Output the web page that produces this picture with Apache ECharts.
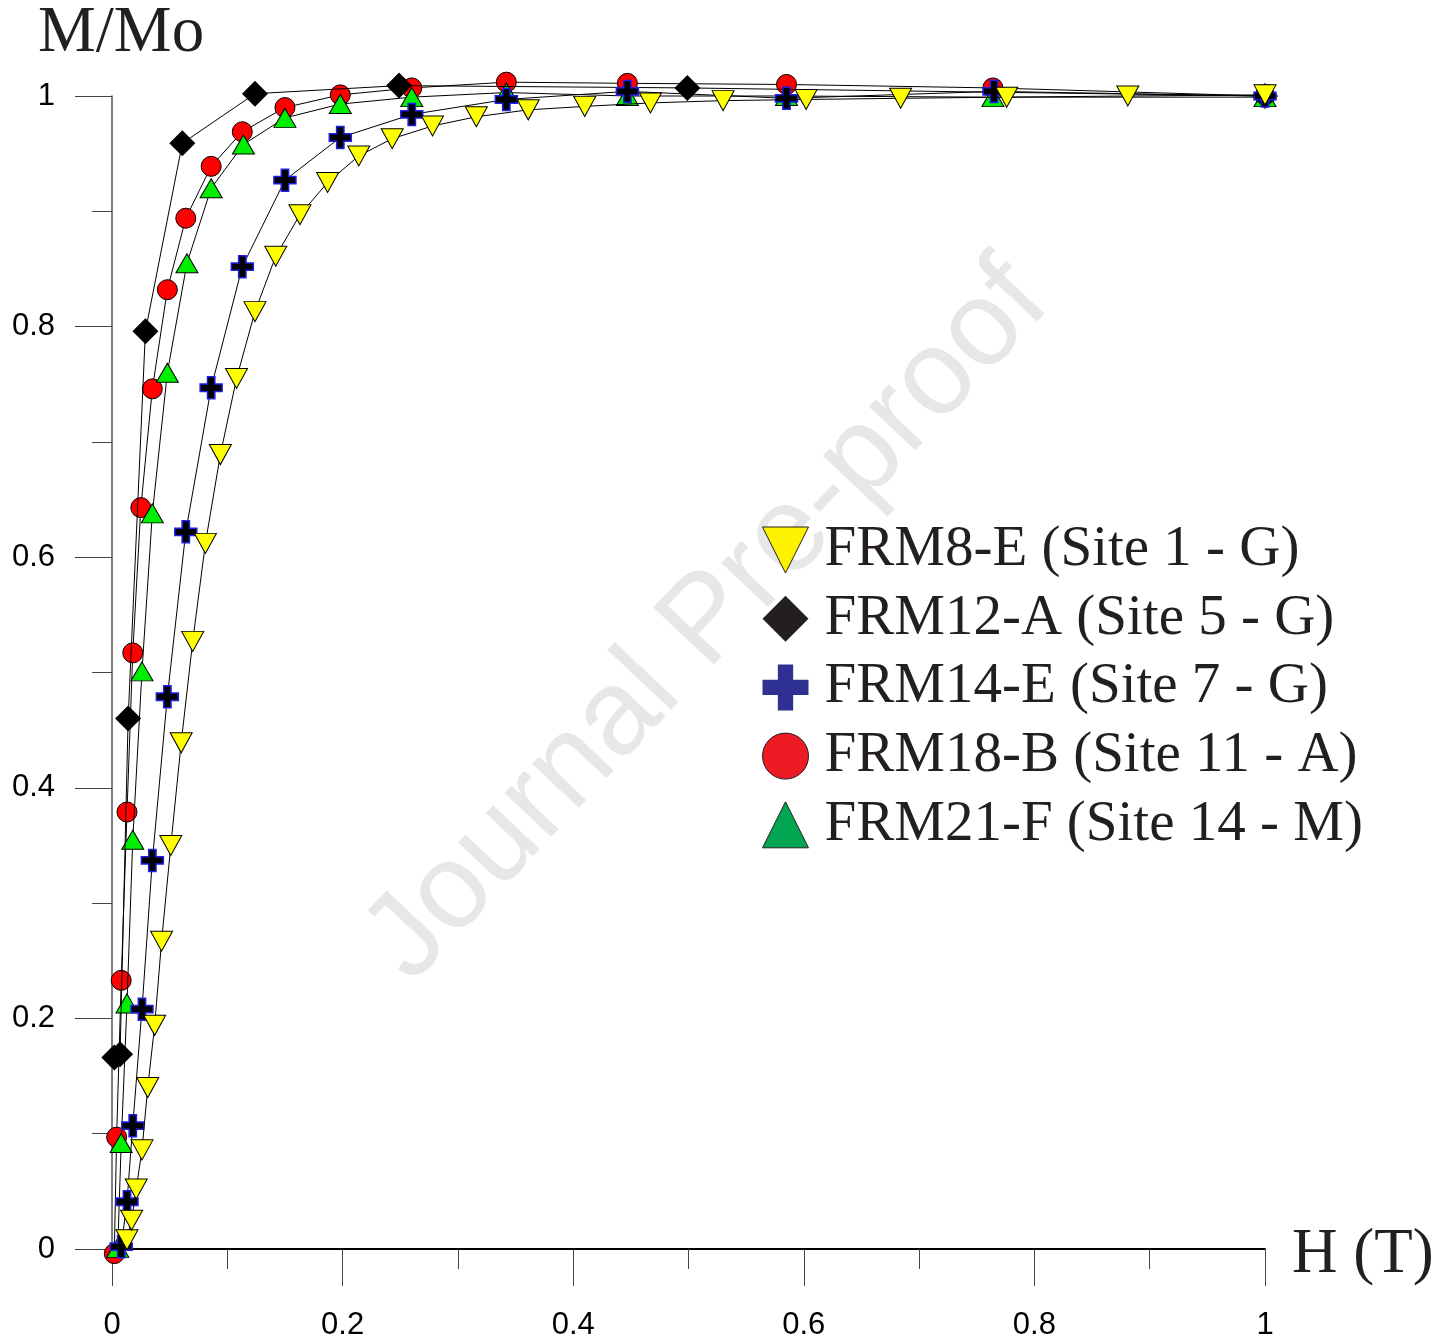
<!DOCTYPE html>
<html>
<head>
<meta charset="utf-8">
<title>M/Mo vs H</title>
<script src="https://cdn.jsdelivr.net/npm/echarts@6/dist/echarts.min.js"></script>
<style>
  html, body { margin: 0; padding: 0; background: #fff; }
  #chart { width: 1451px; height: 1341px; }
</style>
</head>
<body>
<div id="chart"></div>
<script>
// Normalised magnetisation M/Mo against applied field H (tesla)

// FRM8-E (Site 1 - G)
const fieldFRM8E = [0.013, 0.017, 0.021, 0.026, 0.031, 0.037, 0.043, 0.051, 0.060, 0.070,
  0.081, 0.094, 0.108, 0.124, 0.142, 0.163, 0.187, 0.214, 0.243, 0.278,
  0.316, 0.361, 0.410, 0.467, 0.530, 0.602, 0.684, 0.776, 0.881, 1.0];
const magFRM8E = [0.008, 0.025, 0.052, 0.086, 0.140, 0.194, 0.267, 0.350, 0.439, 0.527,
  0.612, 0.689, 0.755, 0.813, 0.861, 0.897, 0.925, 0.948, 0.963, 0.974,
  0.982, 0.988, 0.991, 0.994, 0.996, 0.997, 0.998, 0.999, 1.0, 1.001];

// FRM12-A (Site 5 - G)
const fieldFRM12A = [0.002, 0.007, 0.014, 0.029, 0.061, 0.124, 0.249, 0.499, 1.0];
const magFRM12A = [0.166, 0.169, 0.460, 0.796, 0.959, 1.002, 1.009, 1.007, 1.0];

// FRM14-E (Site 7 - G)
const fieldFRM14E = [0.008, 0.013, 0.018, 0.026, 0.035, 0.048, 0.064, 0.086, 0.113, 0.150,
  0.198, 0.260, 0.342, 0.447, 0.585, 0.765, 1.0];
const magFRM14E = [0.002, 0.041, 0.107, 0.208, 0.337, 0.479, 0.622, 0.747, 0.852, 0.927,
  0.964, 0.984, 0.997, 1.004, 0.998, 1.004, 1.0];

// FRM18-B (Site 11 - A)
const fieldFRM18B = [0.002, 0.004, 0.008, 0.013, 0.018, 0.025, 0.035, 0.048, 0.064, 0.086,
  0.113, 0.150, 0.198, 0.260, 0.342, 0.447, 0.585, 0.764, 1.0];
const magFRM18B = [-0.004, 0.097, 0.233, 0.379, 0.517, 0.643, 0.746, 0.832, 0.894, 0.939,
  0.969, 0.990, 1.001, 1.007, 1.012, 1.011, 1.010, 1.007, 1.0];

// FRM21-F (Site 14 - M)
const fieldFRM21F = [0.005, 0.008, 0.013, 0.018, 0.026, 0.035, 0.048, 0.065, 0.086, 0.114,
  0.150, 0.198, 0.260, 0.342, 0.447, 0.585, 0.764, 1.0];
const magFRM21F = [0.001, 0.092, 0.213, 0.355, 0.501, 0.638, 0.760, 0.855, 0.920, 0.958,
  0.981, 0.993, 0.999, 1.003, 1.0, 1.0, 0.999, 0.999];

const sampleNames = ['FRM8-E (Site 1 - G)', 'FRM12-A (Site 5 - G)', 'FRM14-E (Site 7 - G)',
  'FRM18-B (Site 11 - A)', 'FRM21-F (Site 14 - M)'];

const xTickValues = [0, 0.2, 0.4, 0.6, 0.8, 1];
const yTickValues = [0, 0.2, 0.4, 0.6, 0.8, 1];

const PLUS = 'path://M-1,-3H1V-1H3V1H1V3H-1V1H-3V-1H-1Z';
const DOWN_TRIANGLE = 'path://M0,0L10,0L5,10Z';

function pairs(xs, ys) {
  return xs.map((x, i) => [x, ys[i]]);
}

function curve(name, xs, ys, symbol, size, itemStyle, z) {
  return {
    name: name,
    type: 'line',
    data: pairs(xs, ys),
    symbol: symbol,
    symbolSize: size,
    showSymbol: true,
    clip: false,
    z: z,
    lineStyle: { color: '#000', width: 1 },
    itemStyle: itemStyle,
    emphasis: { disabled: true },
    animation: false
  };
}

const chart = echarts.init(document.getElementById('chart'), null, { renderer: 'canvas' });

const axisLabelFont = {
  fontFamily: '"Liberation Sans", Arial, sans-serif',
  fontSize: 31,
  color: '#000'
};

chart.setOption({
  backgroundColor: '#fff',
  animation: false,
  grid: { left: 112, right: 186, top: 96, bottom: 92, containLabel: false },
  xAxis: {
    type: 'value',
    min: 0,
    max: 1,
    interval: 0.2,
    axisLine: { show: true, onZero: false, lineStyle: { color: '#000', width: 2 } },
    axisTick: { show: true, inside: false, length: 37, lineStyle: { color: '#444', width: 1 } },
    minorTick: { show: true, splitNumber: 2, length: 20, lineStyle: { color: '#444', width: 1 } },
    splitLine: { show: false },
    axisLabel: Object.assign({
      margin: 61,
      formatter: v => String(xTickValues.find(t => Math.abs(t - v) < 1e-9) ?? v)
    }, axisLabelFont)
  },
  yAxis: {
    type: 'value',
    min: 0,
    max: 1,
    interval: 0.2,
    axisLine: { show: true, onZero: false, lineStyle: { color: '#555', width: 1.5 } },
    axisTick: { show: true, inside: false, length: 37, lineStyle: { color: '#444', width: 1 } },
    minorTick: { show: true, splitNumber: 2, length: 20, lineStyle: { color: '#444', width: 1 } },
    splitLine: { show: false },
    axisLabel: Object.assign({
      margin: 57,
      formatter: v => String(yTickValues.find(t => Math.abs(t - v) < 1e-9) ?? v)
    }, axisLabelFont)
  },
  legend: {
    orient: 'vertical',
    left: 762,
    top: 520,
    padding: 0,
    itemWidth: 46,
    itemHeight: 46,
    itemGap: 8.7,
    selectedMode: false,
    textStyle: {
      fontFamily: '"Liberation Serif", "Times New Roman", serif',
      fontSize: 57,
      lineHeight: 60,
      color: '#231f20',
      padding: [0, 0, 0, 11]
    },
    data: [
      { name: sampleNames[0], icon: DOWN_TRIANGLE,
        itemStyle: { color: '#fff200', borderColor: '#231f20', borderWidth: 1 } },
      { name: sampleNames[1], icon: 'diamond',
        itemStyle: { color: '#231f20', borderWidth: 0 } },
      { name: sampleNames[2], icon: PLUS,
        itemStyle: { color: '#2e3192', borderWidth: 0 } },
      { name: sampleNames[3], icon: 'circle',
        itemStyle: { color: '#ed1c24', borderColor: '#231f20', borderWidth: 1 } },
      { name: sampleNames[4], icon: 'triangle',
        itemStyle: { color: '#00a651', borderColor: '#231f20', borderWidth: 1 } }
    ]
  },
  graphic: [
    {
      type: 'text',
      x: 708, y: 622,
      rotation: 0.815,
      z: -10,
      silent: true,
      style: {
        text: 'Journal Pre-proof',
        font: '121px "Liberation Sans", Arial, sans-serif',
        fill: '#e6e7e8',
        align: 'center',
        verticalAlign: 'middle'
      }
    },
    {
      type: 'text',
      x: 38, y: 34,
      silent: true,
      style: {
        text: 'M/Mo',
        font: '65px "Liberation Serif", "Times New Roman", serif',
        fill: '#231f20',
        align: 'left',
        verticalAlign: 'middle'
      }
    },
    {
      type: 'text',
      x: 1292, y: 1255,
      silent: true,
      style: {
        text: 'H (T)',
        font: '63px "Liberation Serif", "Times New Roman", serif',
        fill: '#231f20',
        align: 'left',
        verticalAlign: 'middle'
      }
    }
  ],
  series: [
    curve(sampleNames[3], fieldFRM18B, magFRM18B, 'circle', 20,
      { color: '#ff0000', borderColor: '#000', borderWidth: 1 }, 2),
    curve(sampleNames[4], fieldFRM21F, magFRM21F, 'triangle', [22, 19],
      { color: '#00ee00', borderColor: '#000', borderWidth: 1 }, 3),
    curve(sampleNames[1], fieldFRM12A, magFRM12A, 'diamond', [26, 26],
      { color: '#000', borderWidth: 0 }, 4),
    curve(sampleNames[2], fieldFRM14E, magFRM14E, PLUS, 22,
      { color: '#000', borderColor: '#1f1fe6', borderWidth: 1.5 }, 5),
    curve(sampleNames[0], fieldFRM8E, magFRM8E, DOWN_TRIANGLE, [22, 20],
      { color: '#ffff00', borderColor: '#000', borderWidth: 1 }, 6)
  ]
});
</script>
</body>
</html>
